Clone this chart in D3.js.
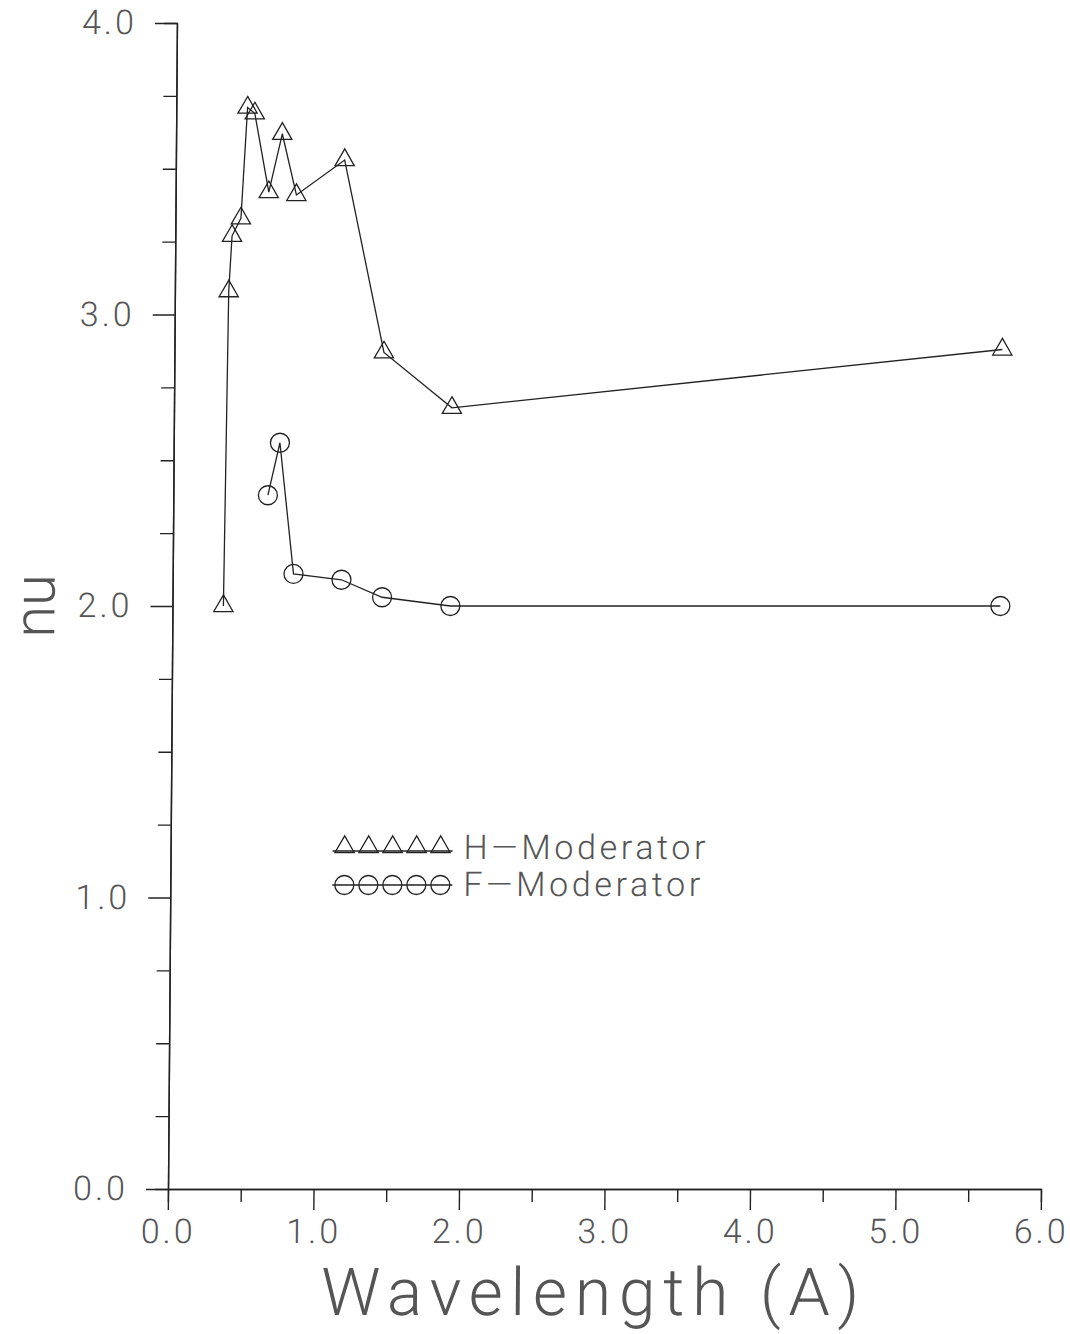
<!DOCTYPE html>
<html>
<head>
<meta charset="utf-8">
<script src="https://cdn.jsdelivr.net/npm/d3@7"></script>
<style>
  body { margin: 0; background: #fff; }
  svg text { font-family: Roboto, "DejaVu Sans", sans-serif; font-weight: 300; fill: #555; }
</style>
</head>
<body>
<svg id="chart" width="1070" height="1334"></svg>
<script>
// data
const wavelengthH = [0.35, 0.37, 0.39, 0.45, 0.49, 0.54, 0.64, 0.73, 0.83, 1.16, 1.44, 1.91, 5.69];
const nuH = [2.0, 3.08, 3.27, 3.33, 3.71, 3.69, 3.42, 3.62, 3.41, 3.53, 2.87, 2.68, 2.88];
const wavelengthF = [0.65, 0.73, 0.83, 1.16, 1.44, 1.91, 5.69];
const nuF = [2.38, 2.56, 2.11, 2.09, 2.03, 2.0, 2.0];

const xMajor = [0, 1, 2, 3, 4, 5, 6];
const xMinor = [0.5, 1.5, 2.5, 3.5, 4.5, 5.5];
const yMajor = [0, 1, 2, 3, 4];
const yMinor = [0.25, 0.5, 0.75, 1.25, 1.5, 1.75, 2.25, 2.5, 2.75, 3.25, 3.5, 3.75];
const seriesNames = ["H\u2014Moderator", "F\u2014Moderator"];

const svg = d3.select("#chart");
const margin = { top: 23, right: 29, bottom: 145, left: 168 };
const width = +svg.attr("width") - margin.left - margin.right;
const height = +svg.attr("height") - margin.top - margin.bottom;
const ink = "#222";

const x = d3.scaleLinear().domain([0, 6]).range([0, width]);
const y = d3.scaleLinear().domain([0, 4]).range([height, 0]);

// the scanned original leans slightly: shear around the x axis
const bottom = margin.top + height;
const skewed = svg.append("g")
  .attr("transform", "translate(0," + bottom + ") skewX(-0.44) translate(0," + (-bottom) + ")");

const g = skewed.append("g")
  .attr("transform", "translate(" + margin.left + "," + margin.top + ")");

function styleAxis(sel) {
  sel.select(".domain").attr("stroke", ink).attr("stroke-width", 1.4);
  sel.selectAll(".tick line").attr("stroke", ink).attr("stroke-width", 1.4);
  sel.selectAll(".tick text")
    .attr("font-size", 34)
    .attr("fill", "#555")
    .style("letter-spacing", "3px");
}

// x axis
g.append("g")
  .attr("transform", "translate(0," + height + ")")
  .call(d3.axisBottom(x).tickValues(xMinor).tickSize(13).tickFormat(""))
  .call(styleAxis);
g.append("g")
  .attr("transform", "translate(0," + height + ")")
  .call(d3.axisBottom(x).tickValues(xMajor).tickSize(21).tickSizeOuter(0).tickPadding(9).tickFormat(d3.format(".1f")))
  .call(styleAxis);

// y axis
g.append("g")
  .call(d3.axisLeft(y).tickValues(yMinor).tickSize(13).tickFormat(""))
  .call(styleAxis);
g.append("g")
  .call(d3.axisLeft(y).tickValues(yMajor).tickSize(22).tickSizeOuter(0).tickPadding(18).tickFormat(d3.format(".1f")))
  .call(styleAxis);

// axis titles
g.append("text")
  .attr("x", 423)
  .attr("y", height + 126)
  .attr("text-anchor", "middle")
  .attr("font-size", 66)
  .attr("font-weight", 200)
  .attr("textLength", 538)
  .attr("lengthAdjust", "spacing")
  .text("Wavelength  (A)");

g.append("text")
  .attr("transform", "translate(" + (-118) + "," + y(2) + ") rotate(-90)")
  .attr("text-anchor", "middle")
  .attr("font-size", 58)
  .attr("font-weight", 200)
  .text("nu");

// series
const line = d3.line().x(d => x(d[0])).y(d => y(d[1]));
const ptsH = wavelengthH.map((w, i) => [w, nuH[i]]);
const ptsF = wavelengthF.map((w, i) => [w, nuF[i]]);
const tri = d3.symbol().type(d3.symbolTriangle).size(160);

g.append("path").datum(ptsH)
  .attr("d", line).attr("fill", "none").attr("stroke", ink).attr("stroke-width", 1.3);
g.append("path").datum(ptsF)
  .attr("d", line).attr("fill", "none").attr("stroke", ink).attr("stroke-width", 1.3);

g.selectAll(".triH").data(ptsH).enter().append("path")
  .attr("class", "triH")
  .attr("d", tri)
  .attr("transform", d => "translate(" + x(d[0]) + "," + y(d[1]) + ")")
  .attr("fill", "none").attr("stroke", ink).attr("stroke-width", 1.3);

g.selectAll(".cirF").data(ptsF).enter().append("circle")
  .attr("class", "cirF")
  .attr("cx", d => x(d[0]))
  .attr("cy", d => y(d[1]))
  .attr("r", 9.5)
  .attr("fill", "none").attr("stroke", ink).attr("stroke-width", 1.3);

// legend
const legend = g.append("g").attr("transform", "translate(162,824)");
const slots = d3.range(5);
legend.append("line")
  .attr("x1", 0).attr("x2", 120).attr("y1", 4).attr("y2", 4)
  .attr("stroke", ink).attr("stroke-width", 1.3);
legend.selectAll(".lt").data(slots).enter().append("path")
  .attr("d", tri)
  .attr("transform", d => "translate(" + (12 + d * 24) + ",0)")
  .attr("fill", "none").attr("stroke", ink).attr("stroke-width", 1.3);
legend.append("line")
  .attr("x1", 0).attr("x2", 120).attr("y1", 38).attr("y2", 38)
  .attr("stroke", ink).attr("stroke-width", 1.3);
legend.selectAll(".lc").data(slots).enter().append("circle")
  .attr("cx", d => 12 + d * 24).attr("cy", 38).attr("r", 9.5)
  .attr("fill", "none").attr("stroke", ink).attr("stroke-width", 1.3);
legend.selectAll(".lab").data(seriesNames).enter().append("text")
  .attr("x", 131)
  .attr("y", (d, i) => 12 + i * 37)
  .attr("font-size", 34)
  .attr("textLength", (d, i) => i === 0 ? 242 : 237)
  .attr("lengthAdjust", "spacing")
  .text(d => d);
</script>
</body>
</html>
